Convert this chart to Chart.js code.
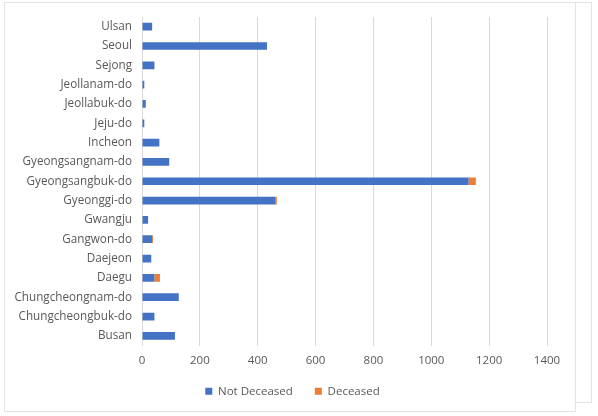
<!DOCTYPE html>
<html>
<head>
<meta charset="utf-8">
<script src="https://cdn.jsdelivr.net/npm/chart.js@4"></script>
<style>
    html, body { margin: 0; padding: 0; background: #fff; }
    #wrap { position: relative; width: 598px; height: 416px; }
    .frame { position: absolute; border: 1px solid #e3e3e3; }
    canvas { position: absolute; left: 0; top: 0; }
</style>
</head>
<body>
<div id="wrap">
    <div class="frame" style="left:4px; top:2px; width:586px; height:399px;"></div>
    <div class="frame" style="left:4px; top:2px; width:570px; height:408px; background:#fff;"></div>
    <canvas id="chart_0" width="598" height="416"></canvas>
</div>
<script>
// Provinces (alphabetical; the axis is reversed so Busan sits at the bottom)
const provinces = [
    'Busan', 'Chungcheongbuk-do', 'Chungcheongnam-do', 'Daegu', 'Daejeon',
    'Gangwon-do', 'Gwangju', 'Gyeonggi-do', 'Gyeongsangbuk-do', 'Gyeongsangnam-do',
    'Incheon', 'Jeju-do', 'Jeollabuk-do', 'Jeollanam-do', 'Sejong', 'Seoul', 'Ulsan'
];

// Cases per province
const notDeceased = [114, 43, 127, 43, 32, 35, 21, 462, 1129, 94, 60, 8, 13, 8, 43, 432, 35];
const deceased    = [0, 0, 0, 19, 0, 3, 0, 4, 25, 0, 0, 0, 0, 0, 0, 0, 0];

const xTicks = { min: 0, max: 1400, step: 200 };

const textColor = '#595959';
const gridColor = '#d9d9d9';
const fontFamily = '"Open Sans", "Liberation Sans", sans-serif';

// Nudge the legend so it sits where the original one does
const legendNudge = {
    id: 'legendNudge',
    afterUpdate: function (chart) {
        const lg = chart.legend;
        lg.left += 19;
        lg.right += 19;
        lg.top -= 8;
        lg.bottom -= 8;
    }
};

function createChart0() {
    const ctx = document.getElementById('chart_0');

    new Chart(ctx.getContext('2d'), {
        type: 'bar',
        data: {
            labels: provinces,
            datasets: [
                {
                    label: 'Not Deceased',
                    data: notDeceased,
                    backgroundColor: '#4472C4',
                    barPercentage: 0.4,
                    categoryPercentage: 1
                },
                {
                    label: 'Deceased',
                    data: deceased,
                    backgroundColor: '#ED7D31',
                    barPercentage: 0.4,
                    categoryPercentage: 1
                }
            ]
        },
        options: {
            indexAxis: 'y',
            responsive: false,
            animation: false,
            layout: {
                padding: { top: 17, right: 51, left: 0, bottom: 1 }
            },
            plugins: {
                legend: {
                    position: 'bottom',
                    labels: {
                        color: textColor,
                        font: { family: fontFamily, size: 11.5 },
                        boxWidth: 7,
                        boxHeight: 7,
                        padding: 22
                    }
                },
                tooltip: { enabled: false }
            },
            scales: {
                x: {
                    stacked: true,
                    min: xTicks.min,
                    max: xTicks.max,
                    ticks: {
                        stepSize: xTicks.step,
                        color: textColor,
                        font: { family: fontFamily, size: 11.5 },
                        padding: 8,
                        callback: function (value) { return value; }
                    },
                    grid: { color: gridColor, drawTicks: false },
                    border: { display: false },
                    afterFit: function (scale) { scale.height = 26; }
                },
                y: {
                    stacked: true,
                    reverse: true,
                    ticks: {
                        color: textColor,
                        font: { family: fontFamily, size: 11.7 },
                        padding: 10,
                        autoSkip: false
                    },
                    grid: { display: false, drawTicks: false },
                    border: { display: false },
                    afterFit: function (scale) { scale.width = 142; }
                }
            }
        },
        plugins: [legendNudge]
    });
}

createChart0();
</script>
</body>
</html>
